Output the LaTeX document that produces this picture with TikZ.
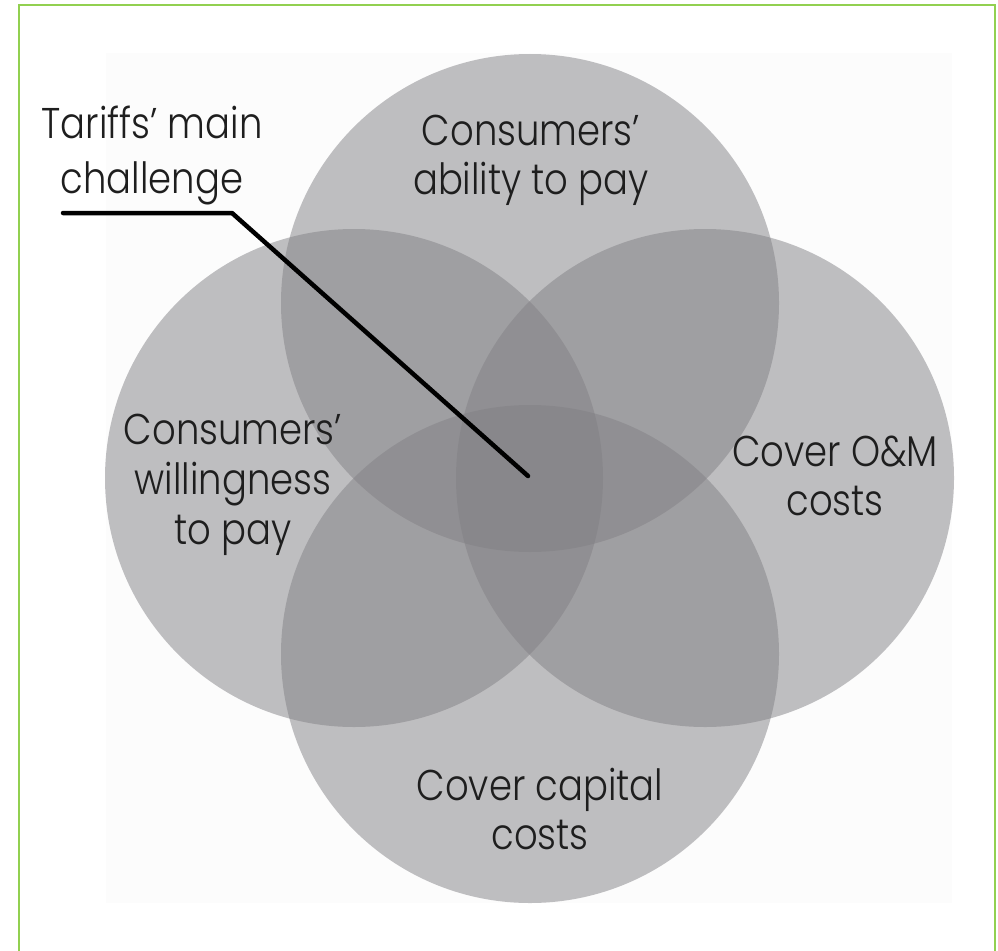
\documentclass[tikz,border=0pt]{standalone}
\usepackage{fontspec}
\setmainfont{Poppins}[UprightFont=* Light, FakeStretch=0.86]
\definecolor{vgray}{RGB}{130,129,133}
\definecolor{framegreen}{RGB}{146,208,80}
\definecolor{panel}{RGB}{252,252,252}
\definecolor{txt}{RGB}{30,30,30}
\begin{document}
\begin{tikzpicture}[x=1pt,y=-1pt,
  venn/.style={circle, minimum size=498pt, inner sep=0pt, fill=vgray, fill opacity=0.5},
  lbl/.style={font=\fontsize{43}{49}\selectfont, align=center, text=txt, inner sep=0pt, anchor=base},
  leader/.style={line width=4.5pt, line cap=round, line join=round, draw=black}]
\useasboundingbox (0,0) rectangle (998,950);
\fill[white] (0,0) rectangle (998,950);
% frame and pale panel behind the diagram
\draw[framegreen, line width=2.5pt] (19,5) rectangle (995,980);
\fill[panel] (106,53) rectangle (952,903);

% the four overlapping sets
\node[venn] (ability)     at (530,303) {};
\node[venn] (willingness) at (354,478) {};
\node[venn] (om)          at (705,478) {};
\node[venn] (capital)     at (530,654) {};

% set labels (anchored at the baseline of their last line)
\node[lbl] (tability) at (531,194) {Consumers’\\ability to pay};
\node[lbl, font=\fontsize{43}{50}\selectfont] (twill) at (233,544) {Consumers’\\willingness\\to pay};
\node[lbl] (tom)      at (835,515) {Cover O\&M\\costs};
\node[lbl] (tcap)     at (540,849) {Cover capital\\costs};

% callout
\node[lbl, font=\fontsize{43}{55}\selectfont] (challenge) at (152,193) {Tariffs’ main\\challenge};
\coordinate (lstart) at (63,213);
\coordinate (knee) at (232,213);
\coordinate (core) at (528,476);
\draw[leader] (lstart) -- (knee) -- (core);
\end{tikzpicture}
\end{document}
